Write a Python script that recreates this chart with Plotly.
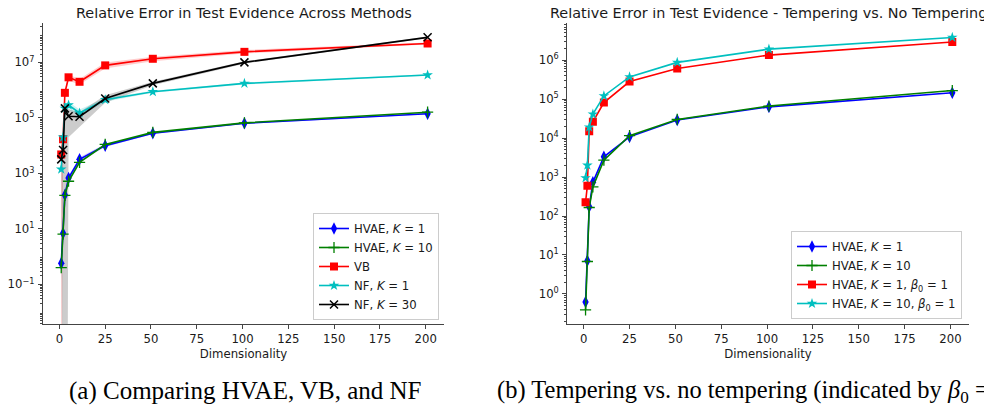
import plotly.graph_objects as go

# ---------------- data ----------------
dims = [1, 2, 3, 5, 11, 25, 51, 101, 201]

# (a) Comparing HVAE, VB, and NF
hvae_k1_a = [0.57, 6.9, 165, 680, 3200, 10000, 28000, 64000, 140000]
hvae_k10_a = [0.4, 6.5, 160, 520, 2500, 11000, 30000, 66000, 160000]
vb_a = [4800, 17000, 800000, 2900000, 2000000, 7800000, 13500000, 24000000, 48000000]
nf_k1_a = [1400, 20000, 220000, 290000, 150000, 450000, 870000, 1750000, 3500000]
nf_k30_a = [3200, 6900, 220000, 115000, 110000, 500000, 1750000, 10000000, 80000000]

# uncertainty bands of panel (a)
hvae_k1_lo = [0.15, 5, 120, 550, 2700, 9000, 26000, 60000, 135000]
hvae_k1_hi = [1.0, 9, 220, 800, 3800, 11500, 30000, 68000, 150000]
vb_lo = [1e-8, 3000, 600000, 2200000, 1600000, 6000000, 11000000, 21000000, 44000000]
vb_hi = [7000, 30000, 1000000, 3600000, 2500000, 10000000, 16000000, 28000000, 52000000]
nf_k1_lo = [1000, 12000, 150000, 200000, 110000, 380000, 800000, 1600000, 3300000]
nf_k1_hi = [2000, 30000, 300000, 380000, 200000, 520000, 950000, 1900000, 3700000]
nf_k30_lo = [1e-30, 1e-30, 1e-30, 2e4, 5e4, 3.5e5, 1.5e6, 9e6, 7.5e7]
nf_k30_hi = [5000, 10000, 280000, 200000, 160000, 650000, 2000000, 11000000, 85000000]

# (b) Tempering vs. no tempering
hvae_k1_b = [0.62, 7.1, 173, 730, 3300, 10700, 29000, 63000, 145000]
hvae_k10_b = [0.39, 6.8, 165, 560, 2700, 11500, 30000, 66000, 165000]
hvae_k1_beta = [225, 600, 15000, 26000, 81000, 280000, 610000, 1340000, 2900000]
hvae_k10_beta = [950, 2000, 19000, 41000, 120000, 370000, 870000, 1900000, 3800000]

x_ticks = [0, 25, 50, 75, 100, 125, 150, 175, 200]
ya_major = [-1, 1, 3, 5, 7]
yb_major = [0, 1, 2, 3, 4, 5, 6]

# ---------------- styling ----------------
# the page body has an 8px margin, so the figure is sized to fit the window
OFF = 8
W, H = 992 - OFF, 406 - OFF
FONT = "DejaVu Sans"
BLUE, GREEN, RED, CYAN, BLACK = "#0000ff", "#008000", "#ff0000", "#00bfbf", "#000000"


def px_x(p):
    return (p - OFF) / W


def px_y(p):
    return 1 - (p - OFF) / H


fig = go.Figure()


def band(x, lo, hi, color, xa, ya):
    fig.add_trace(go.Scatter(
        x=list(x) + list(x)[::-1], y=list(hi) + list(lo)[::-1],
        fill="toself", fillcolor=color, line=dict(width=0),
        mode="lines", hoverinfo="skip", showlegend=False,
        xaxis=xa, yaxis=ya))


band(dims, hvae_k1_lo, hvae_k1_hi, "rgba(0,0,255,0.2)", "x", "y")
band(dims, vb_lo, vb_hi, "rgba(255,0,0,0.2)", "x", "y")
band(dims, nf_k1_lo, nf_k1_hi, "rgba(0,191,191,0.2)", "x", "y")
band(dims, nf_k30_lo, nf_k30_hi, "rgba(0,0,0,0.2)", "x", "y")


def line(y, name, color, symbol, size, xa, ya, legend, mlw=0):
    fig.add_trace(go.Scatter(
        x=dims, y=y, name=name, mode="lines+markers",
        line=dict(color=color, width=1.6),
        marker=dict(symbol=symbol, size=size, color=color,
                    line=dict(color=color, width=mlw)),
        xaxis=xa, yaxis=ya, legend=legend))


line(hvae_k1_a, "HVAE, <i>K</i> = 1", BLUE, "diamond-tall", 9, "x", "y", "legend")
line(hvae_k10_a, "HVAE, <i>K</i> = 10", GREEN, "cross-thin-open", 8, "x", "y", "legend", 1.3)
line(vb_a, "VB", RED, "square", 8, "x", "y", "legend")
line(nf_k1_a, "NF, <i>K</i> = 1", CYAN, "star", 8, "x", "y", "legend")
line(nf_k30_a, "NF, <i>K</i> = 30", BLACK, "x-thin-open", 8, "x", "y", "legend", 1.5)

line(hvae_k1_b, "HVAE, <i>K</i> = 1", BLUE, "diamond-tall", 9, "x2", "y2", "legend2")
line(hvae_k10_b, "HVAE, <i>K</i> = 10", GREEN, "cross-thin-open", 8, "x2", "y2", "legend2", 1.3)
line(hvae_k1_beta, "HVAE, <i>K</i> = 1, <i>β</i><sub>0</sub> = 1", RED, "square", 8, "x2", "y2", "legend2")
line(hvae_k10_beta, "HVAE, <i>K</i> = 10, <i>β</i><sub>0</sub> = 1", CYAN, "star", 8, "x2", "y2", "legend2")

AX = "#444444"
TXT = "#1a1a1a"


def xaxis(dom, anchor):
    return dict(domain=dom, anchor=anchor, range=[-8.95, 209.95], automargin=False,
                tickmode="array", tickvals=x_ticks, ticks="outside", ticklen=4,
                tickcolor=AX, tickwidth=1, showline=True, linecolor=AX, linewidth=1.3,
                showgrid=False, zeroline=False,
                tickfont=dict(family=FONT, size=11.7, color=TXT),
                title=dict(text="Dimensionality", standoff=4,
                           font=dict(family=FONT, size=11.7, color=TXT)))


def sup(k):
    return "10<sup>%s</sup>" % (str(k).replace("-", "\u2212"))


def yaxis(dom, anchor, rng, major, lo, hi):
    minor_vals = [m * 10.0 ** k for k in range(lo, hi) for m in range(2, 10)]
    return dict(domain=dom, anchor=anchor, type="log", range=rng, automargin=False,
                tickmode="array", tickvals=[10.0 ** k for k in major],
                ticktext=[sup(k) for k in major], ticklabelstandoff=1,
                ticks="outside", ticklen=4, tickcolor=AX, tickwidth=1,
                minor=dict(tickmode="array", tickvals=minor_vals, ticks="outside",
                           ticklen=2, tickcolor=AX, tickwidth=1, showgrid=False),
                showline=True, linecolor=AX, linewidth=1.3,
                showgrid=False, zeroline=False,
                tickfont=dict(family=FONT, size=11.7, color=TXT))


ydom = [px_y(324), px_y(23)]
legend_style = dict(bgcolor="rgba(255,255,255,0.85)", bordercolor="#cccccc", borderwidth=1,
                    font=dict(family=FONT, size=11.7, color=TXT),
                    xanchor="right", yanchor="bottom", tracegroupgap=0)

fig.update_layout(
    width=W, height=H, margin=dict(l=0, r=0, t=0, b=0, autoexpand=False),
    paper_bgcolor="white", plot_bgcolor="white",
    font=dict(family=FONT, color=TXT),
    xaxis=xaxis([px_x(43), px_x(444)], "y"),
    yaxis=yaxis(ydom, "x", [-2.43, 8.42], ya_major, -3, 9),
    xaxis2=xaxis([px_x(567.3), px_x(968.7)], "y2"),
    yaxis2=yaxis(ydom, "x2", [-0.77, 6.95], yb_major, -1, 7),
    legend=dict(x=px_x(439), y=px_y(320), **legend_style),
    legend2=dict(x=px_x(962), y=px_y(319), **legend_style),
    annotations=[
        dict(text="Relative Error in Test Evidence Across Methods", xref="paper", yref="paper",
             x=px_x(243.5), y=px_y(13), xanchor="center", yanchor="middle", showarrow=False,
             font=dict(family=FONT, size=14.4, color=TXT)),
        dict(text="Relative Error in Test Evidence - Tempering vs. No Tempering", xref="paper",
             yref="paper", x=px_x(768), y=px_y(13), xanchor="center", yanchor="middle",
             showarrow=False, font=dict(family=FONT, size=14.4, color=TXT)),
        dict(text="(a) Comparing HVAE, VB, and NF", xref="paper", yref="paper",
             x=px_x(245), y=px_y(391), xanchor="center", yanchor="middle", showarrow=False,
             font=dict(family="Liberation Serif", size=25, color="#000")),
        dict(text="(b) Tempering vs. no tempering (indicated by <i>β</i><sub>0</sub> =",
             xref="paper", yref="paper", x=px_x(991), y=px_y(391), xanchor="right",
             yanchor="middle", showarrow=False,
             font=dict(family="Liberation Serif", size=24.5, color="#000")),
    ],
)

fig.write_html("out.html")
